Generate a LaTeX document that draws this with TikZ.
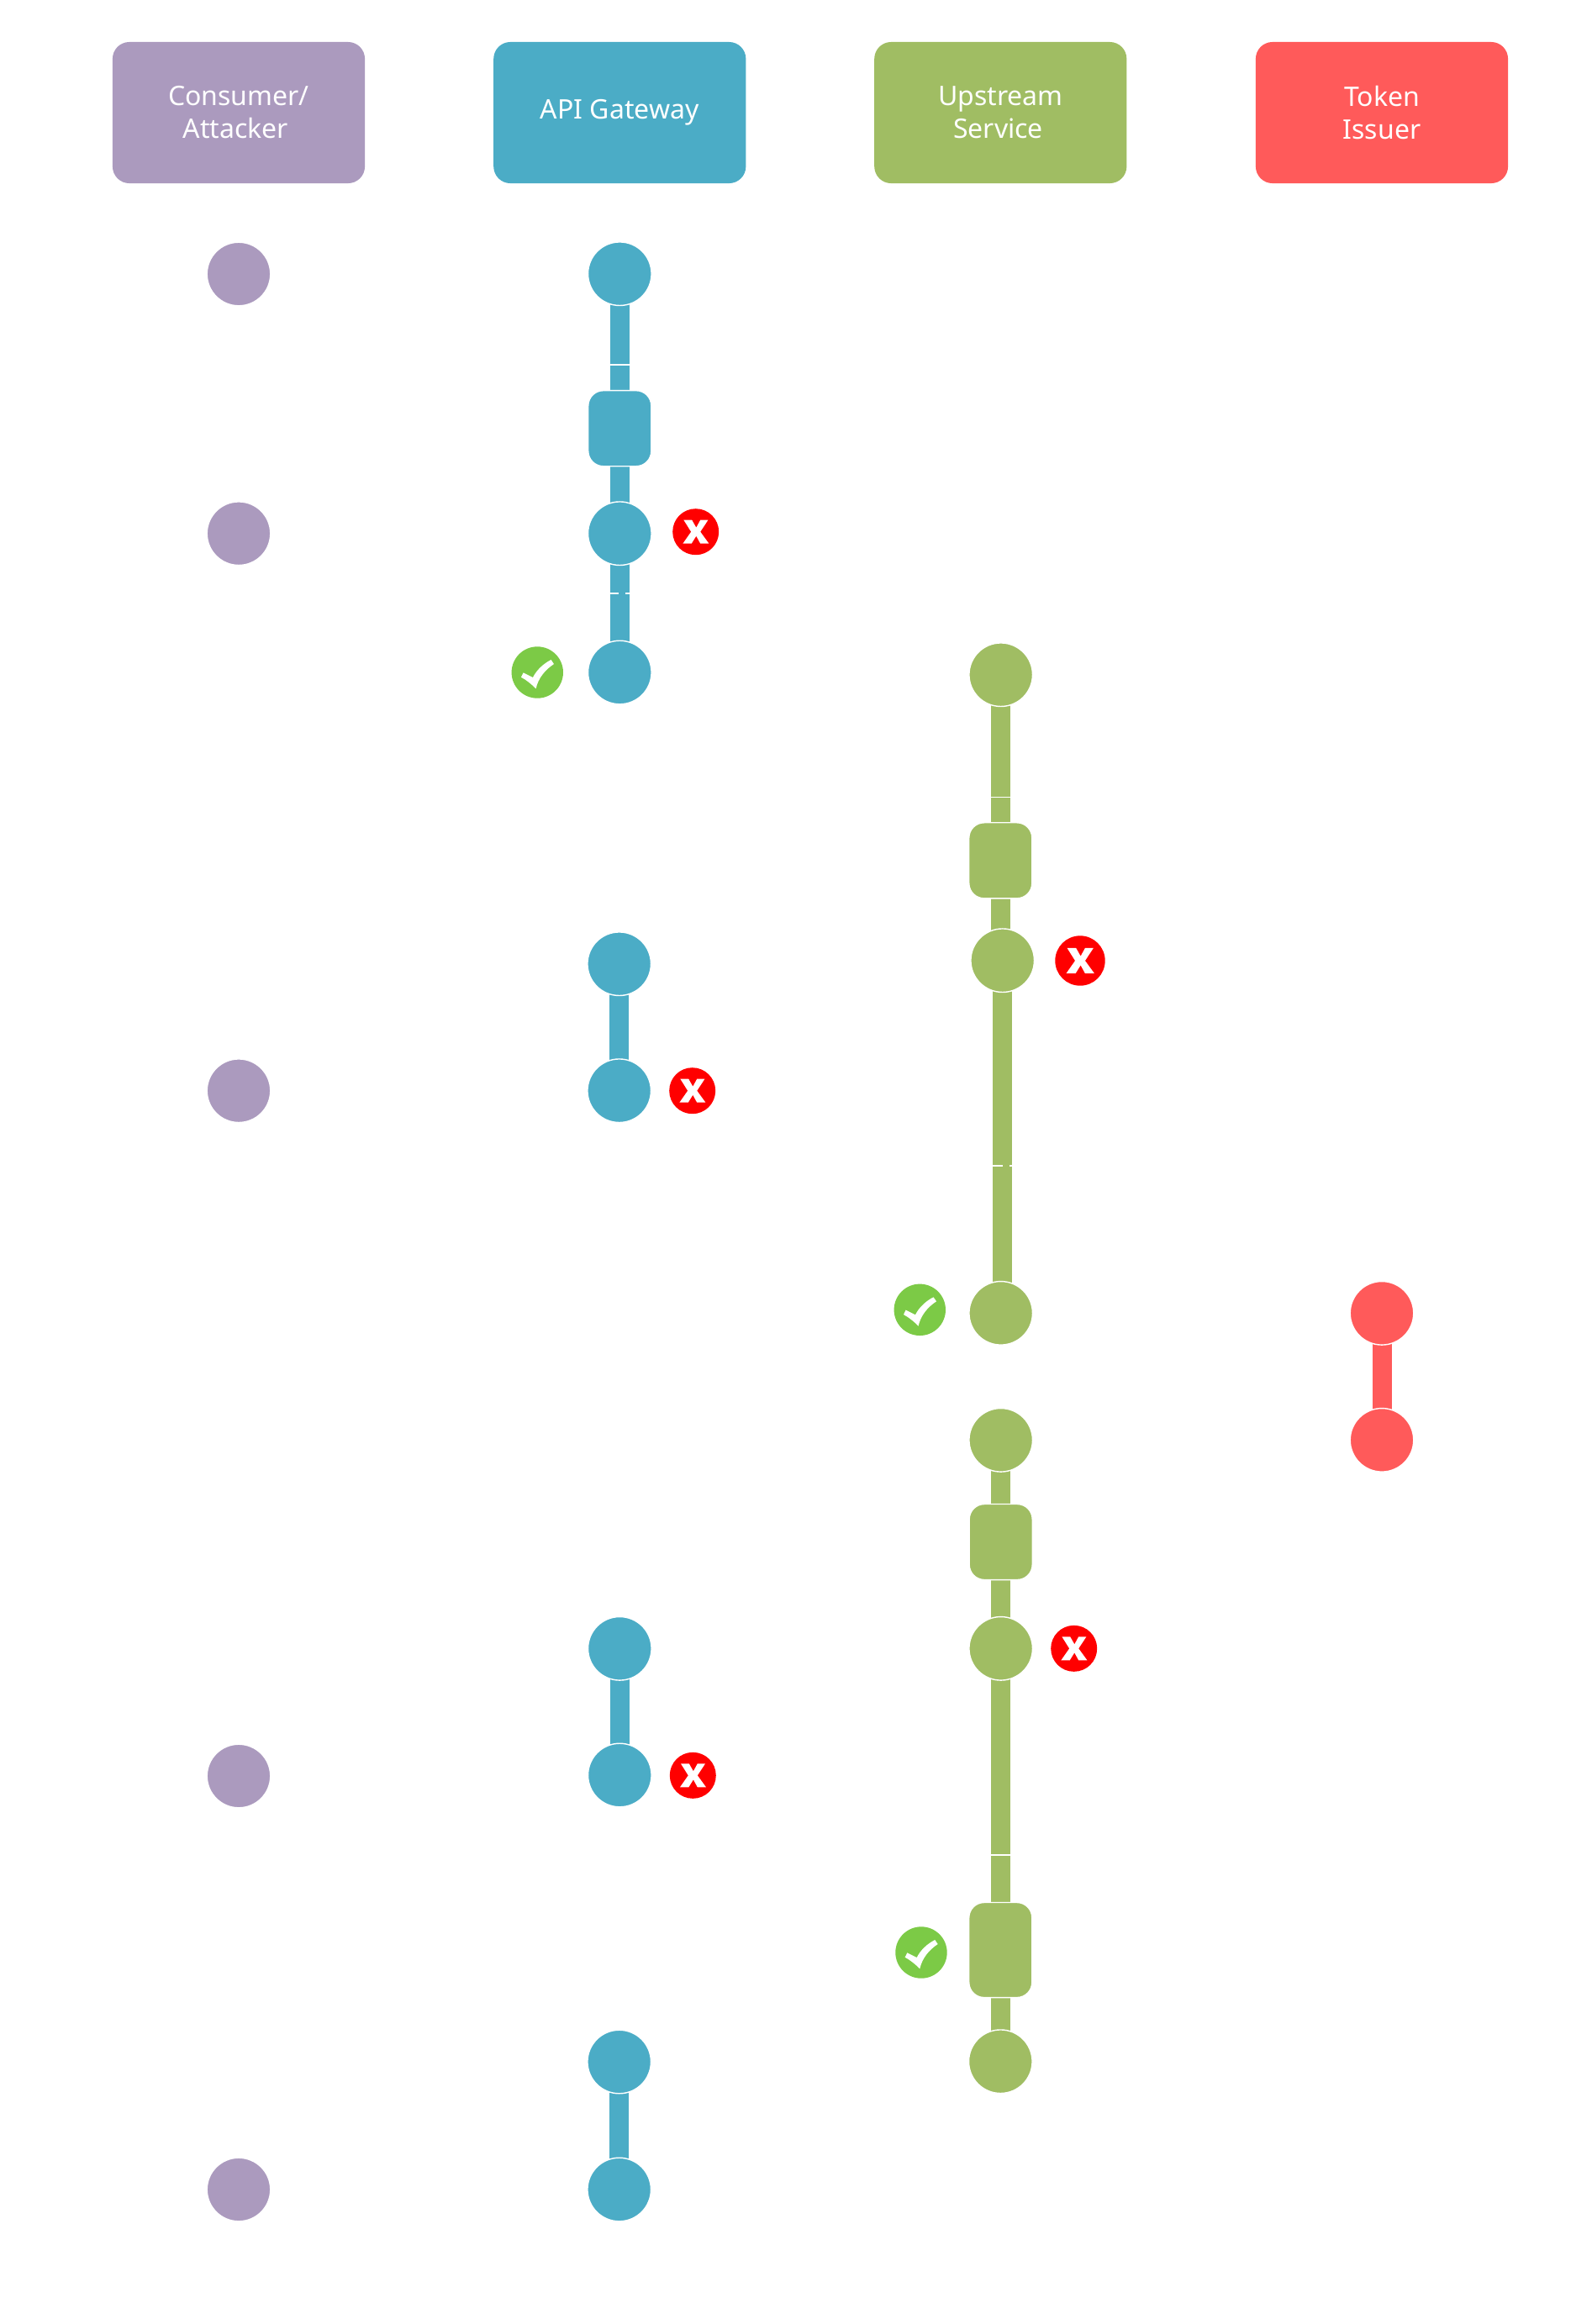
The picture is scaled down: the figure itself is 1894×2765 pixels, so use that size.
\documentclass[tikz,border=0pt]{standalone}
\usepackage{fontspec}
\setmainfont{Noto Sans}
\usepackage{xcolor}
\definecolor{consumerpurple}{RGB}{171,154,190}
\definecolor{gatewayblue}{RGB}{75,172,198}
\definecolor{upstreamgreen}{RGB}{160,189,99}
\definecolor{issuerred}{RGB}{255,90,90}
\definecolor{passgreen}{RGB}{124,202,70}
\usepackage{tikz}
\usetikzlibrary{backgrounds}
\tikzset{
  headbox/.style={rectangle,rounded corners=0.2cm,fill=#1,text=white,minimum width=3cm,
    minimum height=1.68cm,inner sep=0pt,align=center,font=\fontsize{9.1}{11.1}\selectfont},
  event/.style={circle,fill=#1,draw=white,line width=0.4pt,minimum size=0.755cm,inner sep=0pt,outer sep=0pt},
  gate/.style={rectangle,rounded corners=0.18cm,fill=#1,draw=white,line width=0.4pt,minimum width=0.75cm,
    minimum height=0.9cm,inner sep=0pt,outer sep=0pt},
  link/.style={draw=white,double=#1,double distance=0.23cm,line width=0.4pt},
  seamin/.style={shorten >=0.008cm},
  seamout/.style={shorten <=0.008cm},
  bridge/.style={draw=#1,line width=0.08cm},
  failmark/.pic={
    \fill[red] (0,0) circle (27.5);
    \fill[white] (-14.3,-14) -- (-4.5,-14) -- (0.6,-5) -- (5.5,-14) -- (14.7,-14) -- (5.5,0) -- (15.7,14)
      -- (5.5,14) -- (0.6,5) -- (-5,14) -- (-15.3,14) -- (-5.5,0) -- cycle;
  },
  passmark/.pic={
    \fill[passgreen] (0,0) circle (30.7);
    \fill[white] (-19.3,5.7) -- (-16.7,0.3) -- (-5.3,6) .. controls (-1,-3) and (8,-11) .. (16.3,-15)
      -- (19.7,-10) .. controls (9,-3) and (1,7) .. (-1.7,19.3) .. controls (-7,14) and (-13,9) .. cycle;
  }
}

\begin{document}
\begin{tikzpicture}[x=0.01cm,y=-0.01cm]
    % Columns
    \def\colC{284}
    \def\colG{737.3}
    \def\colU{1190.7}
    \def\colT{1644}
    \useasboundingbox (0,0) rectangle (1894,2765);
    % Headers
    \node[headbox=consumerpurple] (consumerhead) at (\colC,134) {Consumer/\\Attacker\kern2pt};
    \node[headbox=gatewayblue] (gatewayhead) at (\colG,134) {API Gateway};
    \node[headbox=upstreamgreen] (upstreamhead) at (1190.3,134) {Upstream\\Service\kern1.5pt};
    \node[headbox=issuerred] (issuerhead) at (\colT,134) {Token\\Issuer};
    % Consumer events
    \node[event=consumerpurple] (co1) at (\colC,326) {};
    \node[event=consumerpurple] (co2) at (\colC,634.7) {};
    \node[event=consumerpurple] (co3) at (\colC,1297.7) {};
    \node[event=consumerpurple] (co4) at (\colC,2113) {};
    \node[event=consumerpurple] (co5) at (\colC,2605) {};
    % Gateway events
    \node[event=gatewayblue] (gw1) at (\colG,325.7) {};
    \node[gate=gatewayblue] (gw2) at (\colG,509.7) {};
    \node[event=gatewayblue] (gw3) at (\colG,634.7) {};
    \node[event=gatewayblue] (gw4) at (\colG,800) {};
    \node[event=gatewayblue] (gw5) at (736.7,1146.7) {};
    \node[event=gatewayblue] (gw6) at (736.7,1297.7) {};
    \node[event=gatewayblue] (gw7) at (\colG,1961.3) {};
    \node[event=gatewayblue] (gw8) at (\colG,2112) {};
    \node[event=gatewayblue] (gw9) at (736.7,2453) {};
    \node[event=gatewayblue] (gw10) at (736.7,2605) {};
    % Upstream events
    \node[event=upstreamgreen] (up1) at (\colU,802.7) {};
    \node[gate=upstreamgreen] (up2) at (1190.3,1023.8) {};
    \node[event=upstreamgreen] (up3) at (1192.7,1142.7) {};
    \node[event=upstreamgreen] (up4) at (\colU,1562.3) {};
    \node[event=upstreamgreen] (up5) at (\colU,1713.3) {};
    \node[gate=upstreamgreen] (up6) at (\colU,1834.5) {};
    \node[event=upstreamgreen] (up7) at (\colU,1961.3) {};
    \node[gate=upstreamgreen,minimum height=1.13cm] (up8) at (1190.3,2320) {};
    \node[event=upstreamgreen] (up9) at (1190.3,2452.7) {};
    % Issuer events
    \node[event=issuerred] (ti1) at (\colT,1562.3) {};
    \node[event=issuerred] (ti2) at (\colT,1713.3) {};
    % Seams
    \coordinate (gwseam1) at (\colG,434);
    \coordinate (gwseam2) at (\colG,706);
    \coordinate (upseam1) at (\colU,948.3);
    \coordinate (upseam2) at (1192.7,1386.7);
    \coordinate (upseam3) at (\colU,2207);
    % Links
    \begin{scope}[on background layer]
        \draw[link=gatewayblue,seamin] (gw1.center) -- (gwseam1);
        \draw[link=gatewayblue,seamout] (gwseam1) -- (gw2.center);
        \draw[link=gatewayblue] (gw2.center) -- (gw3.center);
        \draw[link=gatewayblue,seamin] (gw3.center) -- (gwseam2);
        \draw[link=gatewayblue,seamout] (gwseam2) -- (gw4.center);
        \draw[link=gatewayblue] (gw5.center) -- (gw6.center);
        \draw[link=gatewayblue] (gw7.center) -- (gw8.center);
        \draw[link=gatewayblue] (gw9.center) -- (gw10.center);
        \draw[link=upstreamgreen,seamin] (up1.center) -- (upseam1);
        \draw[link=upstreamgreen,seamout] (upseam1) -- (up2.center -| upseam1);
        \draw[link=upstreamgreen] (up2.center -| upseam1) -- (up3.center -| upseam1);
        \draw[link=upstreamgreen,seamin] (up3.center) -- (upseam2);
        \draw[link=upstreamgreen,seamout] (upseam2) -- (up3.center |- up4.center);
        \draw[link=upstreamgreen] (up5.center) -- (up6.center);
        \draw[link=upstreamgreen] (up6.center) -- (up7.center);
        \draw[link=upstreamgreen,seamin] (up7.center) -- (upseam3);
        \draw[link=upstreamgreen,seamout] (upseam3) -- (up8.center -| upseam3);
        \draw[link=upstreamgreen] (up8.center -| upseam3) -- (up9.center -| upseam3);
        \draw[link=issuerred] (ti1.center) -- (ti2.center);
        % Broken seams
        \draw[bridge=gatewayblue] ([shift={(2.7,-3)}]gwseam2) -- ([shift={(2.7,3)}]gwseam2);
        \draw[bridge=upstreamgreen] ([shift={(4,-3)}]upseam2) -- ([shift={(4,3)}]upseam2);
    \end{scope}
    % Marks
    \pic at (827.7,632.7) {failmark};
    \pic at (639.3,800) {passmark};
    \pic at (823.7,1297.7) {failmark};
    \pic at (824.3,2112.3) {failmark};
    \pic[scale=1.08] at (1285,1143) {failmark};
    \pic at (1094.3,1558.3) {passmark};
    \pic at (1277.7,1961.3) {failmark};
    \pic at (1096,2323) {passmark};
\end{tikzpicture}
\end{document}
